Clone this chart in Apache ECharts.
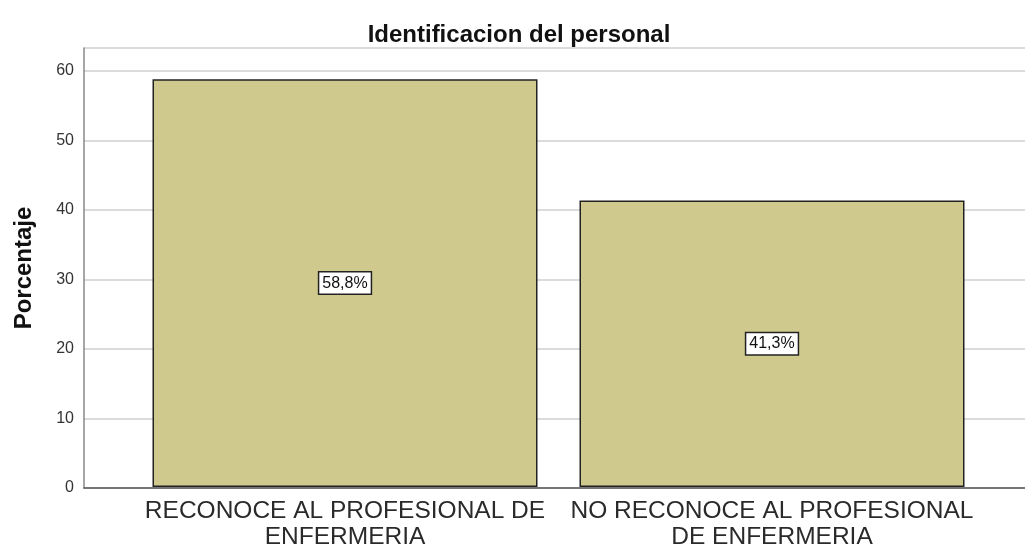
<!DOCTYPE html>
<html lang="es">
  <head>
    <meta charset="UTF-8" />
    <title>Identificacion del personal</title>
    <script src="https://cdn.jsdelivr.net/npm/echarts@6.0.0/dist/echarts.min.js"></script>
    <style>
      html, body { margin: 0; padding: 0; background: #fff; }
    </style>
  </head>
  <body>
    <div id="main" style="width: 1025px; height: 550px"></div>
    <script type="text/javascript">
      var categories = [
        "RECONOCE AL PROFESIONAL DE\nENFERMERIA",
        "NO RECONOCE AL PROFESIONAL\nDE ENFERMERIA",
      ];
      var porcentajes = [58.8, 41.3];
      var yMax = 63.3;

      var font = "Arial, 'Liberation Sans', sans-serif";
      var myChart = echarts.init(document.getElementById("main"));

      var option = {
        animation: false,
        textStyle: { fontFamily: font },
        title: {
          text: "Identificacion del personal",
          left: 514,
          textAlign: "center",
          top: 18,
          textStyle: { fontSize: 24, fontWeight: "bold", color: "#111", fontFamily: font },
        },
        grid: [
          // axis frame + grid lines
          { left: 84, right: 0, top: 48, height: 440 },
          // bars
          { left: 131.5, right: 39.5, top: 48, height: 440 },
        ],
        xAxis: [
          {
            gridIndex: 0,
            type: "category",
            data: categories,
            axisLine: { lineStyle: { color: "#555", width: 1.5 } },
            axisTick: { show: false },
            axisLabel: { show: false },
          },
          {
            gridIndex: 1,
            type: "category",
            data: categories,
            axisLine: { show: false },
            axisTick: { show: false },
            axisLabel: {
              interval: 0,
              hideOverlap: false,
              fontSize: 24.5,
              color: "#2a2a2a",
              lineHeight: 26,
              margin: 11,
              fontFamily: font,
            },
          },
        ],
        yAxis: [
          {
            gridIndex: 0,
            type: "value",
            min: 0,
            max: yMax,
            interval: 10,
            name: "Porcentaje",
            nameLocation: "middle",
            nameGap: 48,
            nameTextStyle: { fontSize: 24, fontWeight: "bold", color: "#111", fontFamily: font },
            axisLine: { show: true, lineStyle: { color: "#888", width: 1.5 } },
            axisTick: { show: false },
            axisLabel: {
              fontSize: 16,
              color: "#333",
              margin: 10,
              showMaxLabel: false,
              fontFamily: font,
            },
            splitLine: { lineStyle: { color: "#cfcfcf", width: 1.5 } },
          },
          {
            gridIndex: 1,
            type: "value",
            min: 0,
            max: yMax,
            show: false,
          },
        ],
        series: [
          {
            type: "bar",
            xAxisIndex: 1,
            yAxisIndex: 1,
            data: porcentajes,
            barWidth: 385,
            itemStyle: { color: "#cfc98d", borderColor: "#222", borderWidth: 1.5 },
            label: {
              show: true,
              position: "inside",
              formatter: function (p) {
                return p.value.toFixed(1).replace(".", ",") + "%";
              },
              fontSize: 16,
              color: "#111",
              backgroundColor: "#fff",
              borderColor: "#222",
              borderWidth: 1.5,
              padding: [3, 3, 2, 3],
              fontFamily: font,
            },
          },
        ],
      };
      myChart.setOption(option);
    </script>
  </body>
</html>
